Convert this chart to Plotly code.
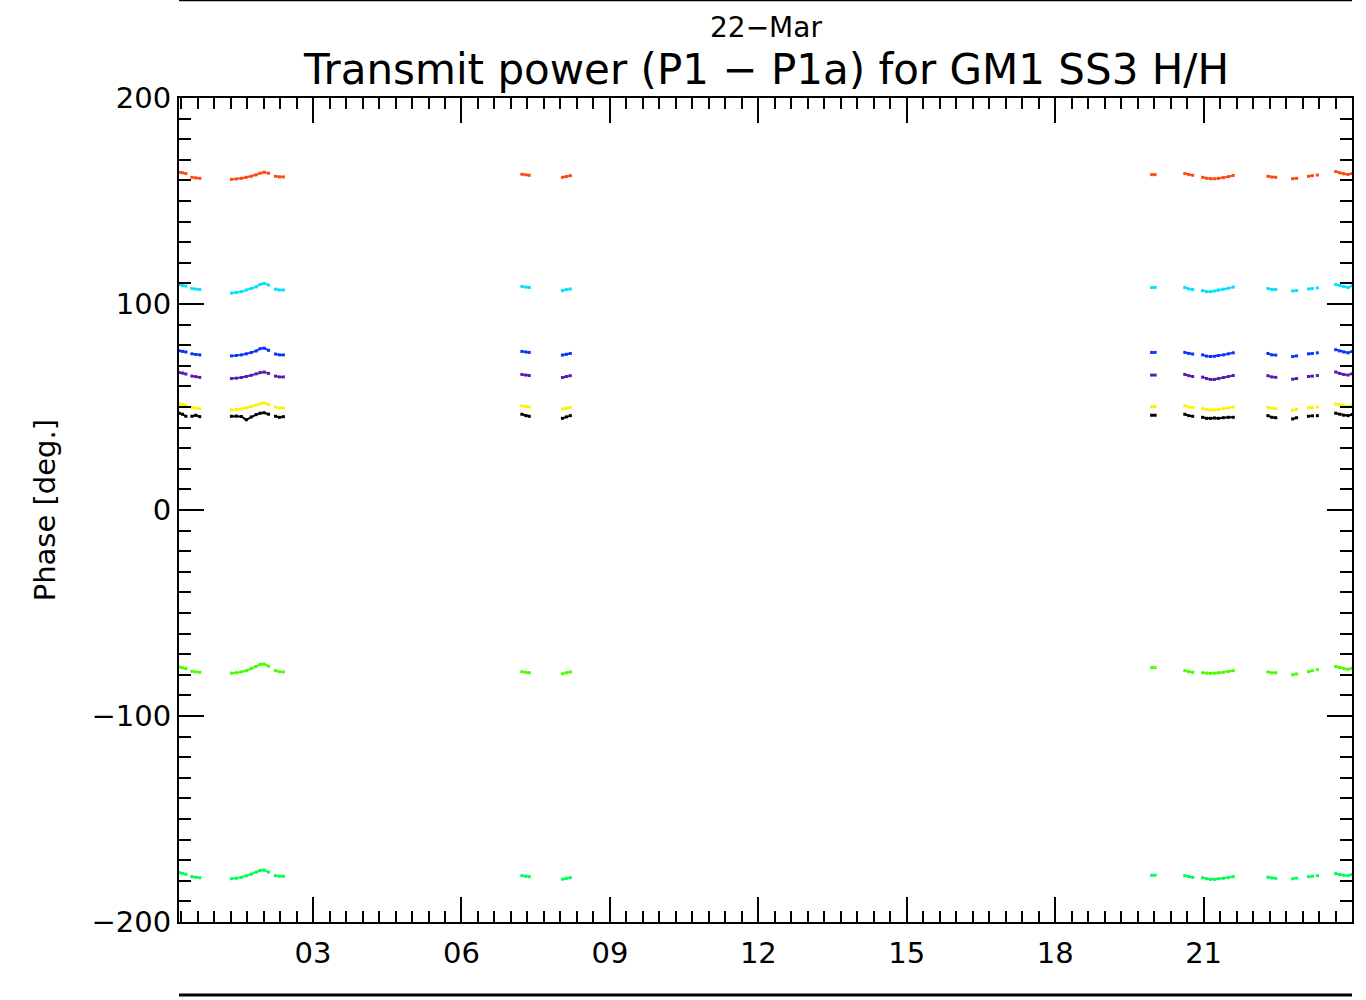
import plotly.graph_objects as go

# Sample times (hours of day), grouped into contiguous acquisition segments
hour_segments = [
    [0.29, 0.36, 0.43],
    [0.55, 0.63, 0.71],
    [1.35, 1.45, 1.55, 1.65, 1.75, 1.85, 1.93, 2.01, 2.10],
    [2.24, 2.32, 2.40],
    [7.22, 7.30, 7.37],
    [8.04, 8.12, 8.20],
    [19.95, 20.02],
    [20.62, 20.70, 20.78],
    [20.98, 21.06, 21.14, 21.22, 21.30, 21.40, 21.50, 21.60],
    [22.30, 22.38, 22.46],
    [22.80, 22.88],
    [23.12, 23.20],
    [23.30],
    [23.67, 23.75, 23.83, 23.92, 24.00],
]

# Phase (deg) per channel, same segment layout as hour_segments
phase_red = [
    [164.0, 163.7, 163.3], [161.5, 161.2, 161.0],
    [160.5, 160.7, 161.0, 161.5, 162.0, 162.7, 163.5, 164.0, 163.5], [162.0, 161.7, 161.7],
    [163.0, 162.7, 162.5], [161.5, 161.9, 162.3],
    [162.8, 162.8], [163.3, 162.8, 162.5],
    [161.5, 161.0, 160.8, 160.8, 161.0, 161.3, 161.8, 162.4],
    [162.0, 161.6, 161.5], [160.8, 161.0], [162.0, 162.3], [162.6],
    [164.3, 163.7, 163.2, 162.9, 163.4],
]
phase_cyan = [
    [109.5, 109.0, 108.7], [107.5, 107.2, 107.0],
    [105.3, 105.6, 106.0, 106.8, 107.5, 108.3, 109.5, 110.0, 109.2], [107.2, 106.8, 106.8],
    [108.5, 108.2, 108.0], [106.5, 107.0, 107.3],
    [108.0, 108.0], [108.0, 107.3, 107.0],
    [106.5, 106.0, 106.0, 106.3, 106.8, 107.2, 107.6, 108.2],
    [107.5, 107.0, 107.0], [106.3, 106.5], [107.3, 107.5], [107.8],
    [109.5, 109.0, 108.5, 108.0, 108.8],
]
phase_blue = [
    [77.3, 77.0, 76.7], [75.8, 75.5, 75.3],
    [74.8, 75.0, 75.3, 75.8, 76.4, 77.2, 78.3, 78.6, 77.5], [75.7, 75.3, 75.3],
    [77.0, 76.7, 76.5], [75.2, 75.6, 76.0],
    [76.5, 76.5], [76.5, 76.0, 75.7],
    [75.3, 74.7, 74.5, 74.6, 75.0, 75.3, 75.8, 76.3],
    [76.0, 75.3, 75.2], [74.5, 74.8], [75.8, 76.0], [76.3],
    [77.8, 77.2, 76.7, 76.3, 77.0],
]
phase_purple = [
    [66.8, 66.5, 66.0], [65.0, 64.7, 64.4],
    [63.8, 64.0, 64.3, 64.8, 65.4, 66.1, 66.8, 67.0, 66.3], [65.0, 64.6, 64.6],
    [65.8, 65.5, 65.3], [64.3, 64.8, 65.2],
    [65.5, 65.5], [65.8, 65.2, 64.8],
    [64.5, 63.8, 63.4, 63.4, 63.8, 64.3, 64.8, 65.3],
    [65.2, 64.6, 64.4], [63.5, 63.8], [64.8, 65.0], [65.3],
    [67.0, 66.3, 65.8, 65.5, 66.2],
]
phase_yellow = [
    [51.5, 51.2, 50.8], [49.8, 49.5, 49.2],
    [48.6, 48.8, 49.1, 49.6, 50.2, 50.9, 51.6, 52.0, 51.2], [50.0, 49.5, 49.5],
    [50.5, 50.2, 50.0], [49.0, 49.4, 49.8],
    [50.2, 50.2], [50.6, 50.0, 49.8],
    [49.3, 48.8, 48.6, 48.6, 48.8, 49.2, 49.6, 50.0],
    [49.8, 49.3, 49.2], [48.5, 48.8], [49.6, 49.8], [50.0],
    [51.5, 51.0, 50.5, 50.2, 50.8],
]
phase_black = [
    [47.0, 46.5, 45.5], [45.5, 46.0, 45.3],
    [45.5, 45.6, 45.4, 43.8, 45.2, 46.3, 47.0, 47.2, 46.5], [45.5, 45.0, 45.3],
    [46.5, 45.8, 45.5], [44.5, 45.2, 45.8],
    [46.0, 46.0], [46.5, 45.8, 45.5],
    [45.0, 44.5, 44.5, 44.7, 44.5, 44.8, 45.0, 45.0],
    [45.8, 45.0, 44.8], [44.2, 44.8], [45.5, 45.7], [45.8],
    [47.0, 46.5, 46.0, 45.8, 46.3],
]
phase_green = [
    [-76.2, -76.6, -77.0], [-78.3, -78.6, -78.8],
    [-79.2, -79.0, -78.6, -78.0, -77.0, -76.0, -75.0, -74.8, -75.8], [-78.0, -78.5, -78.6],
    [-78.5, -78.8, -79.0], [-79.5, -79.0, -78.6],
    [-76.5, -76.5], [-78.0, -78.5, -78.8],
    [-79.0, -79.2, -79.3, -79.2, -79.0, -78.8, -78.4, -78.0],
    [-78.6, -79.0, -79.0], [-80.0, -79.6], [-78.5, -78.0], [-77.5],
    [-76.0, -76.5, -77.0, -77.3, -76.8],
]
phase_spring = [
    [-176.0, -176.4, -176.8], [-178.0, -178.3, -178.5],
    [-179.0, -178.8, -178.3, -177.6, -176.8, -175.8, -175.0, -174.8, -175.8], [-177.5, -177.8, -177.8],
    [-177.5, -177.8, -178.0], [-179.2, -178.8, -178.5],
    [-177.3, -177.3], [-177.5, -178.0, -178.3],
    [-178.5, -179.0, -179.3, -179.3, -179.0, -178.8, -178.5, -178.0],
    [-178.3, -178.7, -178.8], [-179.0, -178.7], [-178.0, -177.8], [-177.5],
    [-176.5, -177.0, -177.3, -177.5, -177.0],
]

channels = [
    (phase_red, "#FF4A12"),
    (phase_cyan, "#00E1FF"),
    (phase_blue, "#0A34FF"),
    (phase_purple, "#5B1BAE"),
    (phase_yellow, "#FFF200"),
    (phase_black, "#000000"),
    (phase_green, "#48FF00"),
    (phase_spring, "#00FF55"),
]

x_tick_vals = [3, 6, 9, 12, 15, 18, 21]
x_tick_text = ["03", "06", "09", "12", "15", "18", "21"]
y_tick_vals = [-200, -100, 0, 100, 200]

FONT = "DejaVu Sans"


def flatten(segments):
    out = []
    for i, seg in enumerate(segments):
        if i:
            out.append(None)
        out.extend(seg)
    return out


hours = flatten(hour_segments)

fig = go.Figure()
for values, color in channels:
    fig.add_trace(go.Scatter(
        x=hours, y=flatten(values), mode="lines+markers",
        line=dict(color=color, width=2),
        marker=dict(color=color, size=3, symbol="square"),
        connectgaps=False, showlegend=False, hoverinfo="skip",
    ))

axis_common = dict(
    showgrid=False, zeroline=False, showline=True, linecolor="black",
    linewidth=2, mirror="ticks", ticks="inside", tickcolor="black",
    tickwidth=2, ticklen=25,
    tickfont=dict(family=FONT, size=29, color="black"),
)

fig.update_xaxes(
    range=[0.29, 24.0], tickmode="array", tickvals=x_tick_vals,
    ticktext=x_tick_text, ticklabelstandoff=4,
    minor=dict(dtick=1 / 3, tick0=0, ticks="inside", ticklen=11,
               tickwidth=2, tickcolor="black"),
    **axis_common,
)
fig.update_yaxes(
    range=[-200, 200], tickmode="array", tickvals=y_tick_vals,
    ticklabelstandoff=0,
    minor=dict(dtick=10, tick0=0, ticks="inside", ticklen=12,
               tickwidth=2, tickcolor="black"),
    **axis_common,
)

fig.add_annotation(
    text="22\u2212Mar", x=0.5, y=1.085, xref="paper", yref="paper",
    showarrow=False, font=dict(family=FONT, size=28, color="black"),
    xanchor="center", yanchor="middle",
)
fig.add_annotation(
    text="Transmit power (P1 \u2212 P1a) for GM1 SS3 H/H", x=0.5, y=1.035,
    xref="paper", yref="paper", showarrow=False,
    font=dict(family=FONT, size=42, color="black"),
    xanchor="center", yanchor="middle",
)
fig.add_annotation(
    text="Phase [deg.]", x=-0.114, y=0.5, xref="paper", yref="paper",
    showarrow=False, textangle=-90,
    font=dict(family=FONT, size=29, color="black"),
    xanchor="center", yanchor="middle",
)

# Separator rules above and below the panel
fig.add_shape(type="line", xref="paper", yref="paper", x0=0, x1=1,
              y0=1.1185, y1=1.1185, line=dict(color="black", width=2))
fig.add_shape(type="line", xref="paper", yref="paper", x0=0, x1=1,
              y0=-0.0886, y1=-0.0886, line=dict(color="black", width=3))

fig.update_layout(
    width=1366, height=1000,
    margin=dict(l=179, r=12, t=98, b=78),
    paper_bgcolor="white", plot_bgcolor="white",
)

fig.write_html("out.html")
